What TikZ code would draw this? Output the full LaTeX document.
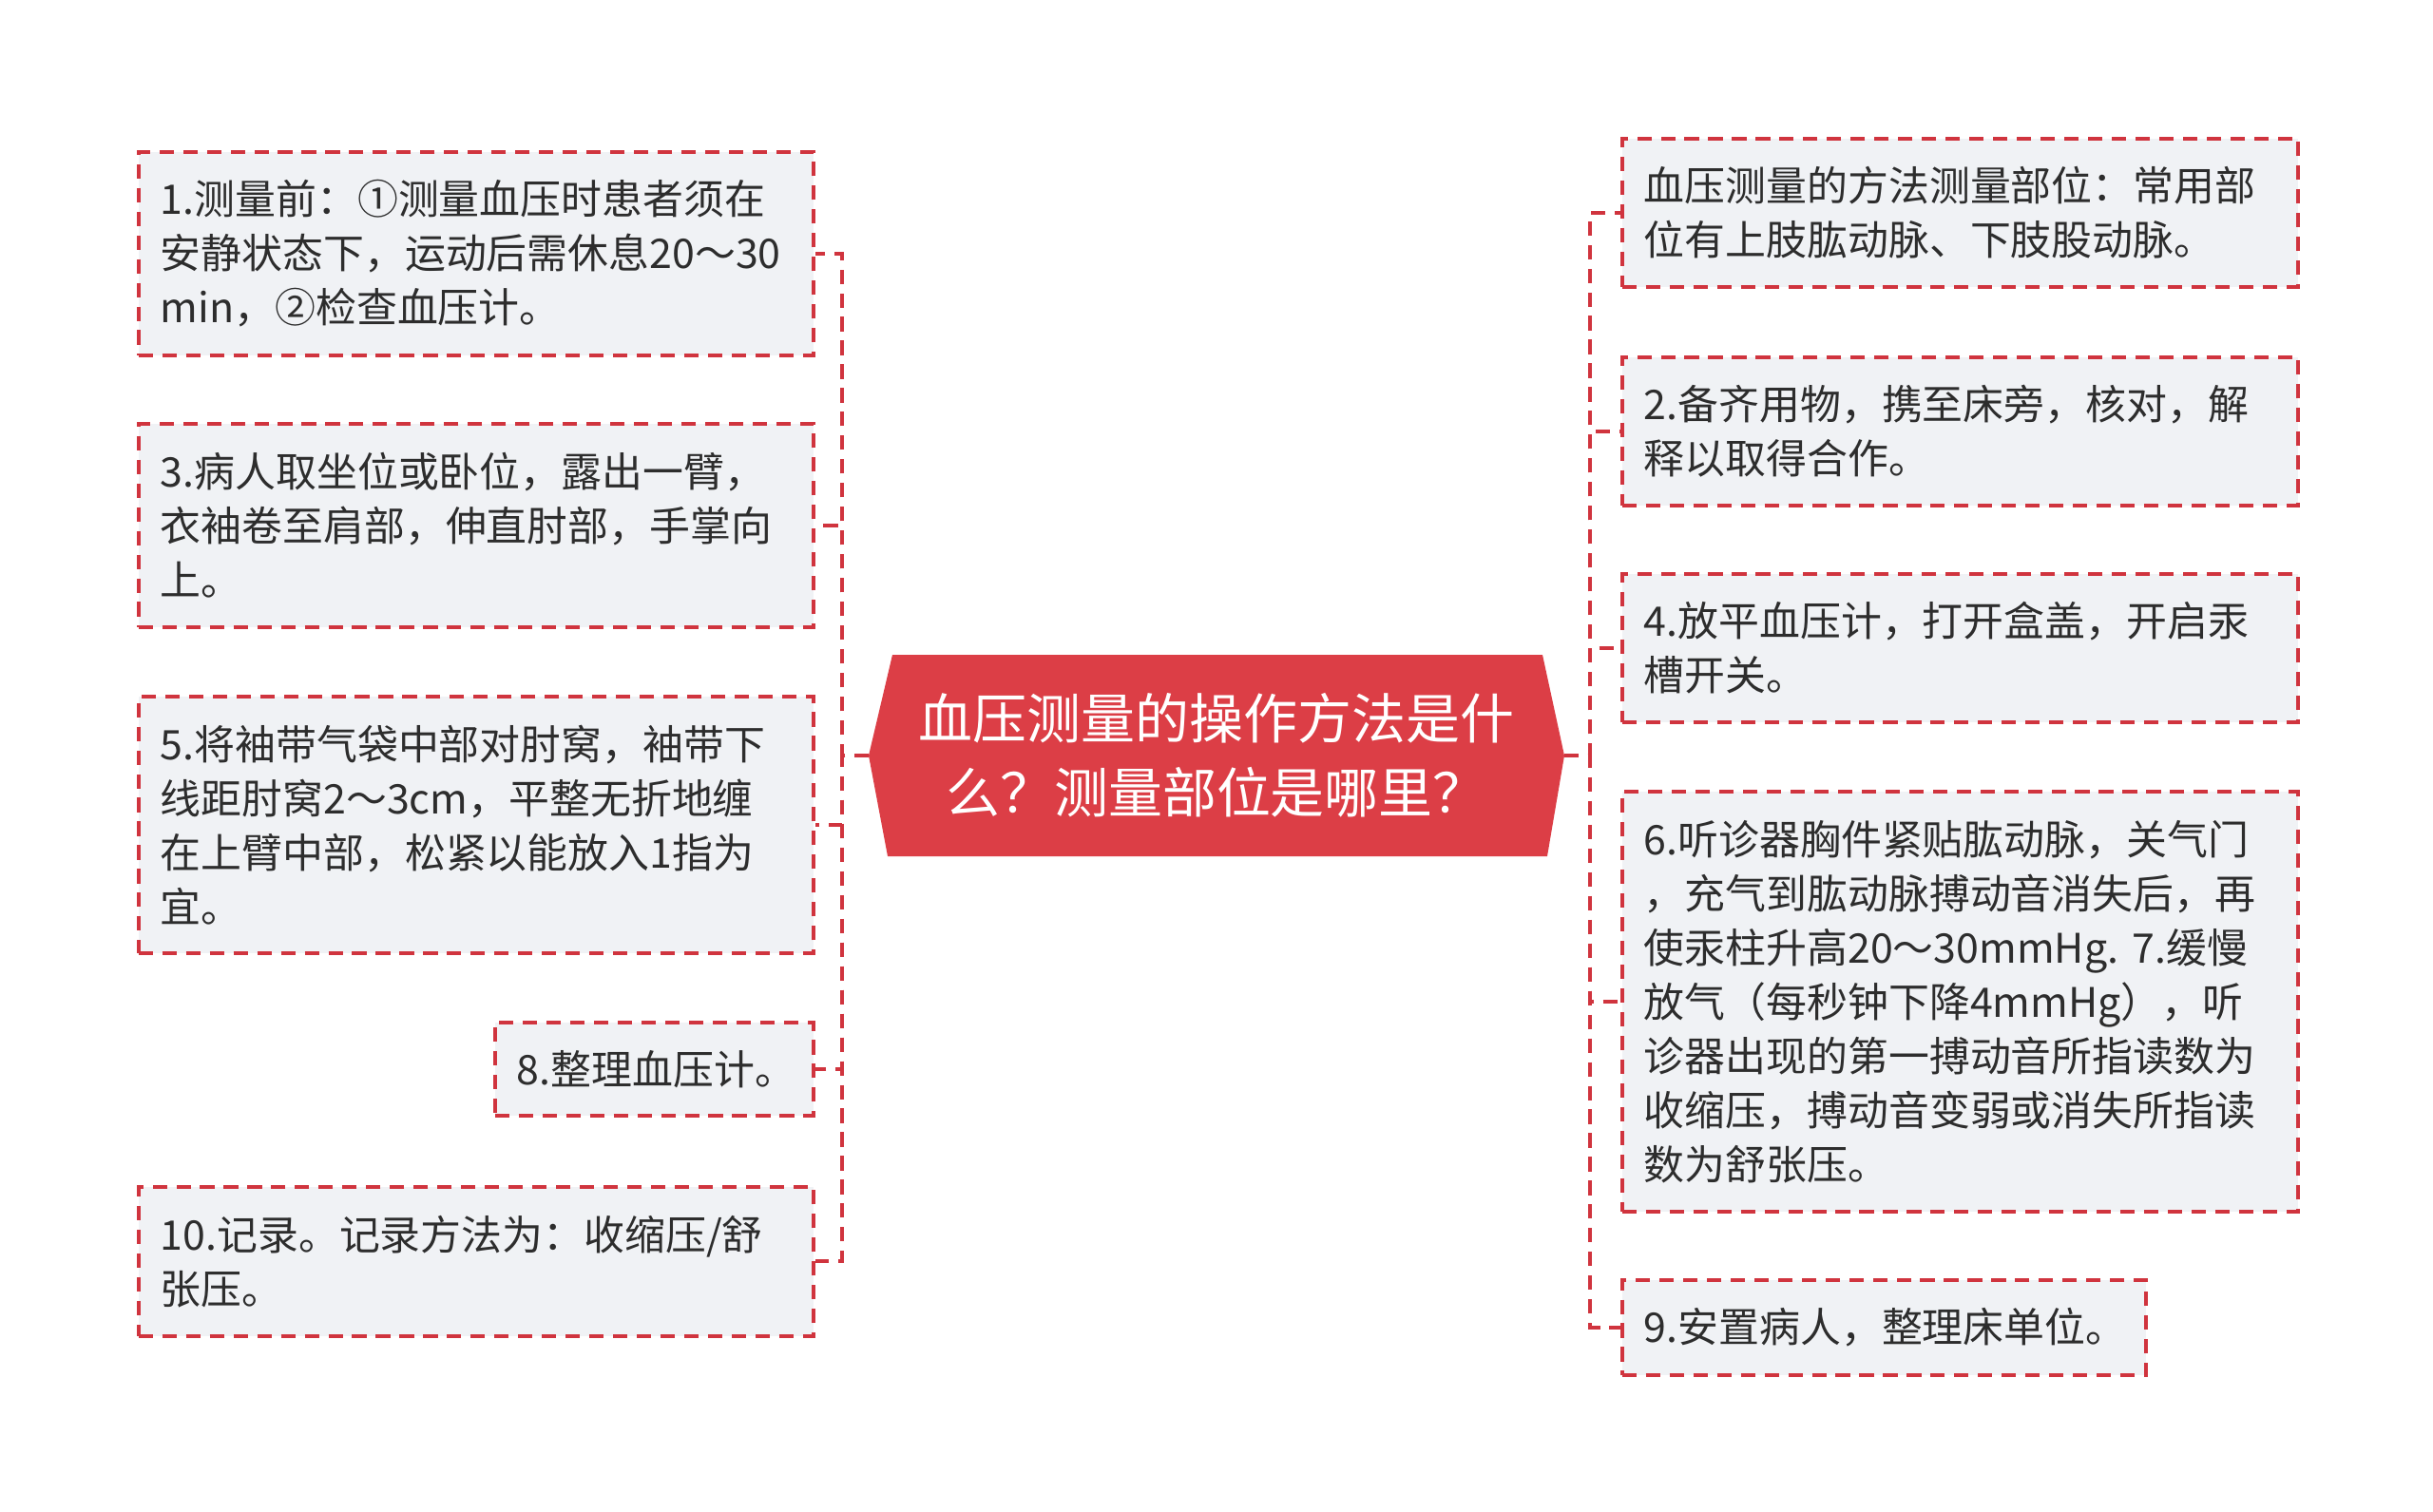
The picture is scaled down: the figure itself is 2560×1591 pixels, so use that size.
\documentclass[tikz,border=0pt]{standalone}
\usepackage{fontspec}
\setmainfont{Noto Sans CJK SC}

\definecolor{rootred}{RGB}{220,62,70}
\definecolor{dashred}{RGB}{208,52,62}
\definecolor{leafgray}{RGB}{240,242,245}
\definecolor{leaftext}{RGB}{45,45,45}

\begin{document}
\begin{tikzpicture}[x=0.01cm,y=-0.01cm,
	leaf/.style={draw=dashred, fill=leafgray, line width=1pt,
		dash pattern=on 4.3pt off 2.8pt, anchor=north west,
		inner xsep=0.23cm, inner ysep=0pt, align=left, text=leaftext,
		font=\fontsize{12.2pt}{16.2pt}\selectfont},
	link/.style={draw=dashred, line width=1.1pt, dash pattern=on 4.3pt off 2.8pt}]
		\useasboundingbox (0,0) rectangle (2560,1591);
		% central topic
		\fill[rootred] (939,689) -- (1623,689) -- (1646,795) coordinate (rootR)
			-- (1628,901) -- (934,901) -- (914,795) coordinate (rootL) -- cycle;
		\node[text=white, align=center, font=\fontsize{16.2pt}{22.2pt}\selectfont] (root) at (1280,795)
			{血压测量的操作方法是什\\么？测量部位是哪里？};
		% left branches
		\node[leaf, text width=6.64cm, minimum height=2.14cm] (L1) at (144,158)
			{1.测量前：①测量血压时患者须在\\安静状态下，运动后需休息20～30\\min，②检查血压计。};
		\node[leaf, text width=6.64cm, minimum height=2.14cm] (L3) at (144,444)
			{3.病人取坐位或卧位，露出一臂，\\衣袖卷至肩部，伸直肘部，手掌向\\上。};
		\node[leaf, text width=6.64cm, minimum height=2.70cm] (L5) at (144,731)
			{5.将袖带气袋中部对肘窝，袖带下\\线距肘窝2～3cm，平整无折地缠\\在上臂中部，松紧以能放入1指为\\宜。};
		\node[leaf, text width=2.89cm, minimum height=0.98cm] (L8) at (519,1074)
			{8.整理血压计。};
		\node[leaf, text width=6.64cm, minimum height=1.57cm] (L10) at (144,1247)
			{10.记录。记录方法为：收缩压/舒\\张压。};
		% right branches
		\node[leaf, text width=6.65cm, minimum height=1.56cm] (R1) at (1705,144)
			{血压测量的方法测量部位：常用部\\位有上肢肱动脉、下肢股动脉。};
		\node[leaf, text width=6.65cm, minimum height=1.56cm] (R2) at (1705,374)
			{2.备齐用物，携至床旁，核对，解\\释以取得合作。};
		\node[leaf, text width=6.65cm, minimum height=1.56cm] (R4) at (1705,602)
			{4.放平血压计，打开盒盖，开启汞\\槽开关。};
		\node[leaf, text width=6.65cm, minimum height=4.42cm] (R6) at (1705,831)
			{6.听诊器胸件紧贴肱动脉，关气门\\，充气到肱动脉搏动音消失后，再\\使汞柱升高20～30mmHg.~7.缓慢\\放气（每秒钟下降4mmHg），听\\诊器出现的第一搏动音所指读数为\\收缩压，搏动音变弱或消失所指读\\数为舒张压。};
		\node[leaf, text width=5.05cm, minimum height=1.00cm] (R9) at (1705,1345)
			{9.安置病人，整理床单位。};
		% connectors
		\foreach \n in {L1,L3,L5,L8,L10}
			\draw[link] (rootL) -- ++(-28,0) |- (\n.east);
		\foreach \n in {R1,R2,R4,R6,R9}
			\draw[link] (rootR) -- ++(27,0) |- (\n.west);
	\end{tikzpicture}
\end{document}
